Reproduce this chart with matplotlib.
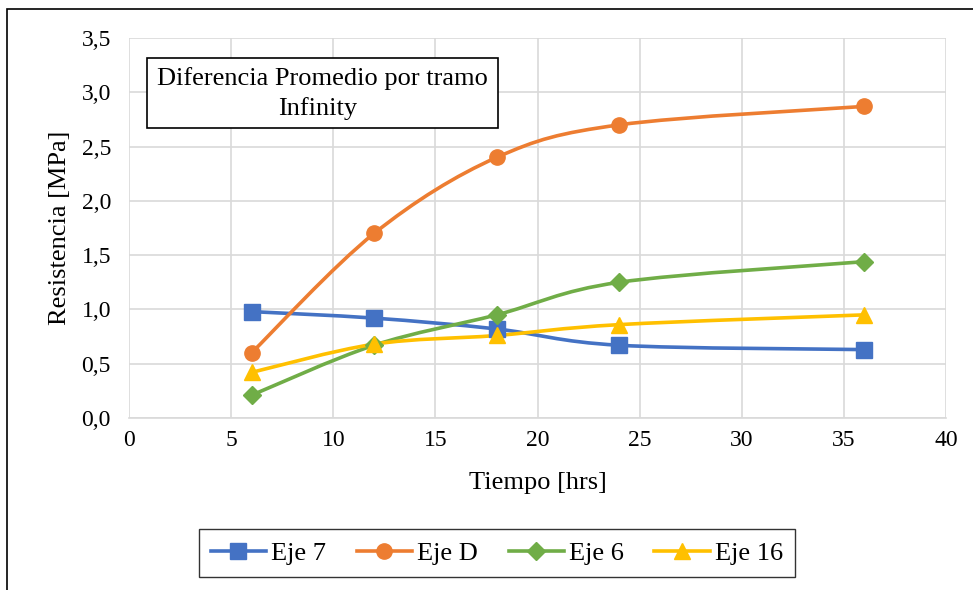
import matplotlib
matplotlib.use("Agg")
import matplotlib.pyplot as plt
from matplotlib.path import Path
from matplotlib.patches import PathPatch, Rectangle
from matplotlib.ticker import FuncFormatter, MultipleLocator
from matplotlib.lines import Line2D

plt.rcParams['font.family'] = ['Liberation Serif', 'DejaVu Serif']

tiempo = [6, 12, 18, 24, 36]
eje_7 = [0.98, 0.92, 0.82, 0.67, 0.63]
eje_d = [0.60, 1.70, 2.40, 2.70, 2.87]
eje_6 = [0.21, 0.67, 0.95, 1.25, 1.44]
eje_16 = [0.42, 0.68, 0.76, 0.86, 0.95]

series = [
    ("Eje 7", eje_7, "#4472C4", "s", 11),
    ("Eje D", eje_d, "#ED7D31", "o", 11),
    ("Eje 6", eje_6, "#70AD47", "D", 9),
    ("Eje 16", eje_16, "#FFC000", "^", 11),
]


def smooth_path(xs, ys):
    # excel-style smoothed line: cubic bezier through the points
    verts = [(xs[0], ys[0])]
    codes = [Path.MOVETO]
    n = len(xs)
    for i in range(n - 1):
        x0, y0 = (xs[i - 1], ys[i - 1]) if i > 0 else (xs[i], ys[i])
        x1, y1 = xs[i], ys[i]
        x2, y2 = xs[i + 1], ys[i + 1]
        x3, y3 = (xs[i + 2], ys[i + 2]) if i + 2 < n else (x2, y2)
        c1 = (x1 + (x2 - x0) / 6, y1 + (y2 - y0) / 6)
        c2 = (x2 - (x3 - x1) / 6, y2 - (y3 - y1) / 6)
        verts += [c1, c2, (x2, y2)]
        codes += [Path.CURVE4] * 3
    return Path(verts, codes)


fig = plt.figure(figsize=(9.73, 5.90), dpi=100)
W, H = 973, 590
ax = fig.add_axes([129 / W, 1 - 418 / H, (946 - 129) / W, (418 - 38) / H])

handles = []
for name, vals, color, mk, ms in series:
    ax.add_patch(PathPatch(smooth_path(tiempo, vals), facecolor="none",
                           edgecolor=color, lw=2.6, zorder=3, capstyle="round"))
    ax.plot(tiempo, vals, linestyle="none", marker=mk, ms=ms, color=color, zorder=4)
    handles.append(Line2D([], [], color=color, lw=2.6, marker=mk, ms=ms, label=name))

ax.set_xlim(0, 40)
ax.set_ylim(0, 3.5)
ax.xaxis.set_major_locator(MultipleLocator(5))
ax.yaxis.set_major_locator(MultipleLocator(0.5))
ax.yaxis.set_major_formatter(FuncFormatter(lambda v, p: f"{v:.1f}".replace(".", ",")))
ax.grid(True, color="#d9d9d9", lw=1.2, zorder=0)
ax.set_axisbelow(True)
for s in ["top", "right", "left"]:
    ax.spines[s].set_visible(False)
ax.spines["bottom"].set_color("#d9d9d9")
ax.spines["bottom"].set_linewidth(1.2)
ax.tick_params(length=0, labelsize=17)
ax.tick_params(axis="y", pad=13)
ax.tick_params(axis="x", pad=9)

fig.text(538 / W, 1 - 483 / H, "Tiempo [hrs]", ha="center", va="center", fontsize=19)
fig.text(60 / W, 1 - 228 / H, "Resistencia [MPa]", ha="center", va="center",
         rotation=90, fontsize=19)

# cuadro de titulo
fig.patches.append(Rectangle((147 / W, 1 - 128 / H), (498 - 147) / W, 70 / H,
                             transform=fig.transFigure, facecolor="white",
                             edgecolor="black", lw=1.2, zorder=5))
fig.text(322 / W, 1 - 79 / H, "Diferencia Promedio por tramo", ha="center", va="center",
         fontsize=19, zorder=6)
fig.text(318 / W, 1 - 109 / H, "Infinity", ha="center", va="center", fontsize=19, zorder=6)

fig.legend(handles=handles, loc="center", bbox_to_anchor=(497 / W, 1 - 553 / H), ncol=4,
           fontsize=19, frameon=True, fancybox=False, edgecolor="black", handlelength=2.1,
           columnspacing=1.15, handletextpad=0.2, borderpad=0.45)

fig.patches.append(Rectangle((7 / W, -0.1), 1.2, 1 - 9 / H + 0.1, transform=fig.transFigure,
                             facecolor="none", edgecolor="black", lw=1.2))

fig.savefig("out.png", dpi=100)
